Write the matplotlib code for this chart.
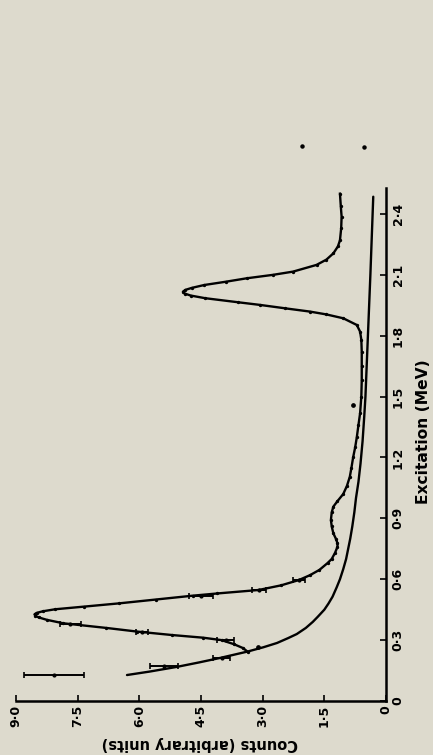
import matplotlib
matplotlib.use("Agg")
import matplotlib.pyplot as plt

# ---- data (excitation in MeV, counts in arbitrary units) ----
spec_exc = [0.242, 0.261, 0.280, 0.300, 0.312, 0.325, 0.342, 0.360, 0.383, 0.400,
            0.412, 0.420, 0.427, 0.434, 0.442, 0.452, 0.465, 0.481, 0.500, 0.519,
            0.530, 0.547, 0.570, 0.596, 0.620, 0.646, 0.680, 0.700, 0.730, 0.760,
            0.777, 0.800, 0.826, 0.860, 0.892, 0.930, 0.958, 0.985, 1.020, 1.060,
            1.105, 1.150, 1.200, 1.250, 1.300, 1.360, 1.418, 1.500, 1.580, 1.650,
            1.720, 1.780, 1.820, 1.853, 1.886, 1.905, 1.919, 1.935, 1.952, 1.965,
            1.985, 1.998, 2.008, 2.017, 2.026, 2.036, 2.050, 2.066, 2.083, 2.100,
            2.116, 2.149, 2.175, 2.206, 2.240, 2.270, 2.330, 2.387, 2.440, 2.500]
spec_cnt = [3.36, 3.48, 3.70, 4.00, 4.45, 5.20, 6.05, 6.80, 7.85, 8.25,
            8.45, 8.53, 8.55, 8.50, 8.35, 8.05, 7.35, 6.50, 5.60, 4.70,
            4.10, 3.10, 2.55, 2.12, 1.85, 1.62, 1.42, 1.32, 1.24, 1.18,
            1.18, 1.22, 1.28, 1.32, 1.34, 1.32, 1.28, 1.18, 1.04, 0.95,
            0.88, 0.84, 0.80, 0.75, 0.71, 0.67, 0.63, 0.60, 0.59, 0.59,
            0.59, 0.60, 0.63, 0.71, 1.04, 1.45, 1.85, 2.45, 3.07, 3.60,
            4.40, 4.75, 4.90, 4.94, 4.88, 4.72, 4.42, 3.90, 3.39, 2.75,
            2.26, 1.69, 1.45, 1.28, 1.17, 1.12, 1.09, 1.08, 1.10, 1.12]

bg_exc = [0.128, 0.145, 0.168, 0.190, 0.212, 0.244, 0.265, 0.286, 0.310, 0.330,
          0.360, 0.390, 0.415, 0.450, 0.480, 0.514, 0.560, 0.600, 0.650, 0.700,
          0.750, 0.800, 0.860, 0.930, 1.000, 1.080, 1.170, 1.280, 1.400, 1.500,
          1.600, 1.800, 2.100, 2.485]
bg_cnt = [6.30, 5.75, 5.09, 4.55, 4.04, 3.36, 2.98, 2.65, 2.38, 2.17,
          1.95, 1.78, 1.66, 1.50, 1.40, 1.30, 1.20, 1.12, 1.04, 0.97,
          0.92, 0.87, 0.82, 0.77, 0.73, 0.67, 0.62, 0.57, 0.53, 0.50,
          0.48, 0.44, 0.38, 0.31]

err_exc = [0.130, 0.172, 0.212, 0.300, 0.340, 0.377, 0.517, 0.547, 0.596]
err_cnt = [8.08, 5.40, 4.00, 3.90, 5.93, 7.68, 4.50, 3.08, 2.12]
err_hw = [0.73, 0.35, 0.20, 0.20, 0.15, 0.25, 0.28, 0.17, 0.14]

lone_exc = [0.264, 1.46]
lone_cnt = [3.12, 0.81]

stray_exc = [2.735, 2.73]
stray_cnt = [2.04, 0.535]

cnt_ticks = [0, 1.5, 3.0, 4.5, 6.0, 7.5, 9.0]
cnt_labels = ['0', '1·5', '3·0', '4·5', '6·0', '7·5', '9·0']
exc_ticks = [0, 0.3, 0.6, 0.9, 1.2, 1.5, 1.8, 2.1, 2.4]
exc_labels = ['0', '0·3', '0·6', '0·9', '1·2', '1·5', '1·8', '2·1', '2·4']

# ---- figure ----
bg = '#dddacd'
W, H = 433, 755
fig = plt.figure(figsize=(W / 100, H / 100), dpi=100, facecolor=bg)
ax = fig.add_axes([16 / W, 54 / H, 370 / W, 513 / H])
ax.set_facecolor(bg)

ax.plot(bg_cnt, bg_exc, color='black', lw=1.7, solid_capstyle='round',
        solid_joinstyle='round')
ax.plot(spec_cnt, spec_exc, color='black', lw=1.7, marker='o', ms=1.4,
        solid_joinstyle='round')
ax.errorbar(err_cnt, err_exc, xerr=err_hw, fmt='o', ms=2.0, color='black',
            elinewidth=1.4, capsize=2.5, capthick=1.2)
ax.plot(lone_cnt, lone_exc, 'o', color='black', ms=2.4)
ax.plot(stray_cnt, stray_exc, 'o', color='black', ms=2.2, clip_on=False)

ax.set_xlim(9.0, 0)
ax.set_ylim(0, 2.528)

for s in ['top', 'left']:
    ax.spines[s].set_visible(False)
for s in ['bottom', 'right']:
    ax.spines[s].set_linewidth(1.8)
    ax.spines[s].set_color('black')

ax.yaxis.tick_right()
ax.set_xticks(cnt_ticks)
ax.set_xticklabels(cnt_labels, rotation=90, fontsize=9, fontweight='bold',
                   ha='center', va='top')
ax.set_yticks(exc_ticks)
ax.set_yticklabels(exc_labels, rotation=90, fontsize=9, fontweight='bold',
                   ha='left', va='center')
ax.tick_params(axis='both', direction='in', length=4, width=1.2, color='black')
ax.tick_params(axis='x', pad=3)
ax.tick_params(axis='y', pad=4)

ax.set_xlabel('Counts (arbitrary units)', rotation=180, fontsize=10.5,
              fontweight='bold', va='center', ha='center')
ax.xaxis.set_label_coords((200 - 16) / 370, (701 - 743) / 513)
ax.yaxis.set_label_position('right')
ax.set_ylabel('Excitation (MeV)', rotation=90, fontsize=11.2,
              fontweight='bold', va='center', ha='center')
ax.yaxis.set_label_coords((423 - 16) / 370, (701 - 432) / 513)

fig.savefig('out.png', dpi=100, facecolor=bg)
